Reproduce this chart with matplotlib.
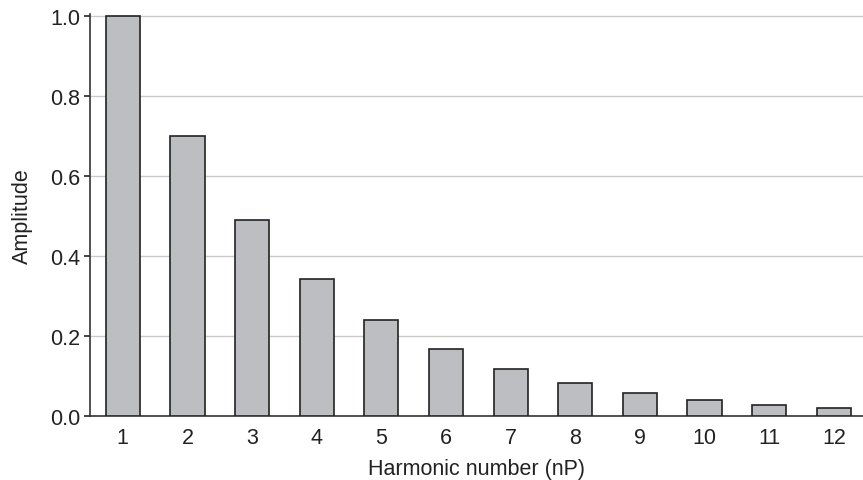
import numpy as np
import matplotlib.pyplot as plt

plt.rcParams['font.family'] = ['Liberation Sans', 'DejaVu Sans']

harmonics = list(range(1, 13))
amplitude = [1.0, 0.70, 0.49, 0.343, 0.24, 0.168, 0.118, 0.082, 0.058, 0.040, 0.028, 0.020]
yticks = [0.0, 0.2, 0.4, 0.6, 0.8, 1.0]

fig = plt.figure(figsize=(8.63, 4.81), dpi=100)
ax = fig.add_axes([0.104, 0.133, 0.896, 0.836])

ax.bar(harmonics, amplitude, width=0.53, color='#bdbec2', edgecolor='#222222', linewidth=1.2, zorder=3)

ax.set_xlim(0.49, 12.45)
ax.set_ylim(0, 1.005)
ax.set_xticks(harmonics)
ax.set_yticks(yticks)
ax.set_yticklabels([f'{v:.1f}' for v in yticks])
ax.yaxis.grid(True, color='#c8c8c8', linewidth=1.0, zorder=0)
ax.set_axisbelow(True)

for s in ['top', 'right']:
    ax.spines[s].set_visible(False)
for s in ['left', 'bottom']:
    ax.spines[s].set_color('#333333')
    ax.spines[s].set_linewidth(1.2)

ax.tick_params(axis='x', length=0, pad=8, labelsize=15.5, colors='#222222')
ax.tick_params(axis='y', length=4, width=1.2, pad=3, labelsize=15.5, colors='#222222')

ax.set_xlabel('Harmonic number (nP)', fontsize=15.5, color='#222222', labelpad=7)
ax.set_ylabel('Amplitude', fontsize=15.5, color='#222222', labelpad=12)

fig.savefig('out.png', dpi=100)
